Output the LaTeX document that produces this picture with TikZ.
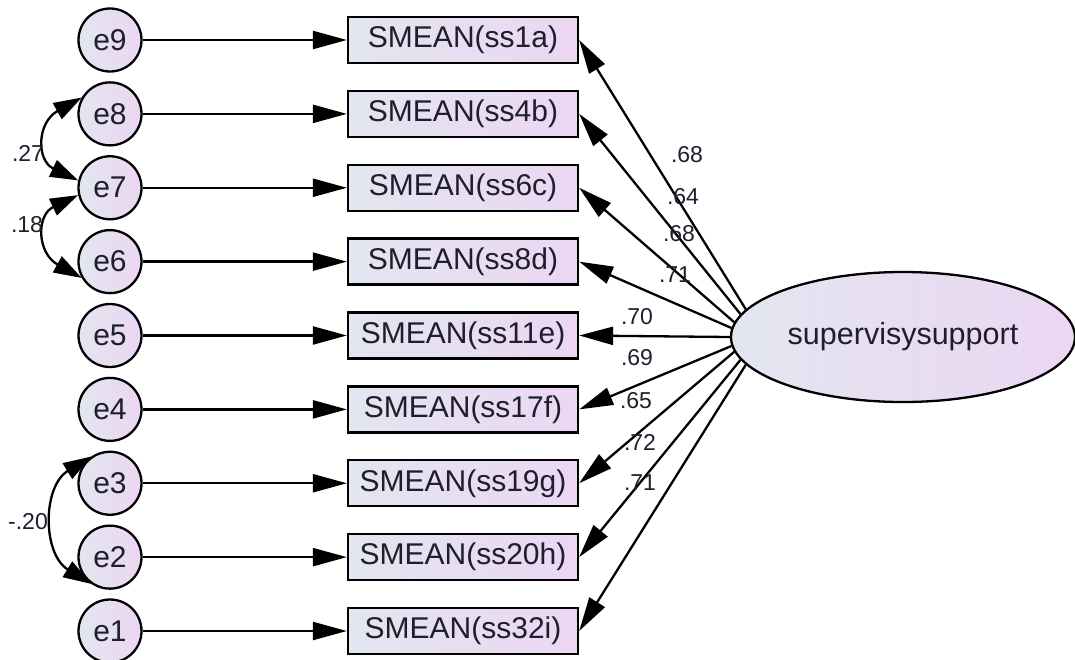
\documentclass[tikz,border=0pt]{standalone}
\usepackage{fontspec}
\setmainfont{Liberation Sans}
\usetikzlibrary{arrows.meta,shapes.geometric}
\definecolor{shL}{RGB}{226,230,240}
\definecolor{shR}{RGB}{236,214,242}
\definecolor{txt}{RGB}{30,30,45}
\begin{document}
\begin{tikzpicture}[x=1pt,y=-1pt,
  errv/.style={circle, draw, line width=2.3pt, minimum size=63pt, inner sep=0pt,
    left color=shL, right color=shR, font=\fontsize{30}{30}\selectfont, text=txt},
  obsv/.style={rectangle, draw, line width=2.3pt, minimum width=230pt, minimum height=46pt,
    inner sep=0pt, left color=shL, right color=shR, font=\fontsize{30}{30}\selectfont, text=txt},
  latv/.style={ellipse, draw, line width=2.3pt, minimum width=344pt, minimum height=130pt,
    inner sep=0pt, left color=shL, right color=shR, font=\fontsize{30.5}{30.5}\selectfont, text=txt},
  regarrow/.style={line width=2.3pt, -{Triangle[length=34pt,width=18pt]}},
  covarrow/.style={line width=2.3pt, {Triangle[length=28pt,width=18pt]}-{Triangle[length=28pt,width=18pt]}},
  coef/.style={font=\fontsize{23}{23}\selectfont, text=txt, inner sep=0pt}
]
\useasboundingbox (0,0) rectangle (1075,659);
\foreach \i/\e/\b in {0/9/1a,1/8/4b,2/7/6c,3/6/8d,4/5/11e,5/4/17f,6/3/19g,7/2/20h,8/1/32i}{
  \node[errv] (e\e) at (110,40+73.875*\i) {e\e};
  \node[obsv] (b\i) at (463,40+73.875*\i) {SMEAN(ss\b)};
  \draw[regarrow] (e\e) -- (b\i);
}
\node[latv] (F) at (903,337) {supervisysupport};
\foreach \i/\a in {0/170,1/172,2/175,3/177,4/180,5/183,6/185,7/188,8/190}{
  \draw[regarrow] (F.\a) -- (b\i.east);
}
\node[coef] (l0) at (687,155) {.68};
\node[coef] (l1) at (683,197) {.64};
\node[coef] (l2) at (679,234) {.68};
\node[coef] (l3) at (675,275) {.71};
\node[coef] (l4) at (637,317) {.70};
\node[coef] (l5) at (637,358) {.69};
\node[coef] (l6) at (636,401) {.65};
\node[coef] (l7) at (640,442) {.72};
\node[coef] (l8) at (640,483) {.71};
\draw[covarrow] (e8.150) .. controls +(-45,25) and +(-42,-20) .. (e7.167);
\draw[covarrow] (e7.193) .. controls +(-42,20) and +(-45,-25) .. (e6.210);
\draw[covarrow] (e3.125) .. controls +(-49,30) and +(-49,-30) .. (e2.235);
\node[coef] (c1) at (28,153) {.27};
\node[coef] (c2) at (27,225) {.18};
\node[coef] (c3) at (28,522) {-.20};
\end{tikzpicture}
\end{document}
